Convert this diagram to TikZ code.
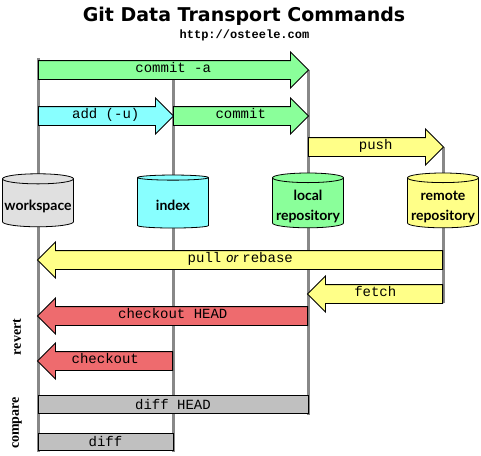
\documentclass[tikz,border=0pt]{standalone}
\usepackage{fontspec}
\setmainfont{Liberation Serif}
\setmonofont{Liberation Mono}
\setsansfont{Lato}
\newfontfamily\titlefamily{DejaVu Sans}
\usetikzlibrary{shapes.geometric}
\usetikzlibrary{shapes.arrows}

\definecolor{cmdgreen}{HTML}{8AFF9A}
\definecolor{cmdcyan}{HTML}{88FFFF}
\definecolor{cmdyellow}{HTML}{FFFF88}
\definecolor{cmdred}{HTML}{EE6B6E}
\definecolor{cmdgray}{HTML}{C0C0C0}
\definecolor{storegray}{HTML}{E0E0E0}
\definecolor{lanegray}{HTML}{888888}

\newcommand{\storelabel}[1]{\raisebox{-3.5pt}[\height][\depth]{\begin{tabular}{@{}c@{}}#1\end{tabular}}}

\tikzset{
  lane/.style={draw=lanegray, line width=3pt},
  store/.style={cylinder, shape border rotate=90, draw, line width=0.8pt, aspect=0.15,
    minimum width=71pt, minimum height=53pt, inner sep=0pt,
    font=\sffamily\bfseries\fontsize{14}{20}\selectfont},
  cmd/.style={single arrow, draw, line width=0.9pt, anchor=tail,
    font=\ttfamily\fontsize{14}{14}\selectfont,
    text height=7pt, text depth=2pt, inner ysep=4.5pt, inner xsep=0pt,
    single arrow head extend=8.5pt},
  cmdleft/.style={cmd, shape border rotate=180},
  cmdbar/.style={draw, line width=0.9pt, fill=cmdgray, inner sep=0pt,
    font=\ttfamily\fontsize{14}{14}\selectfont, minimum height=17.5pt},
  side/.style={rotate=90, font=\bfseries\fontsize{14}{14}\selectfont}
}

\begin{document}
\begin{tikzpicture}[x=1pt,y=-1pt]
    \useasboundingbox (0,0) rectangle (481,455);
    \node [font=\titlefamily\bfseries\fontsize{19}{19}\selectfont] (title) at (244,16.5) {Git Data Transport Commands};
    \node [font=\ttfamily\bfseries\fontsize{12}{12}\selectfont] (url) at (244.5,35) {http://osteele.com};
    % lanes
    \coordinate (wstop) at (38,58);   \coordinate (wsend) at (38,452);
    \coordinate (ixtop) at (173,80);  \coordinate (ixend) at (173,452);
    \coordinate (lrtop) at (308,70);  \coordinate (lrend) at (308,415);
    \coordinate (rrtop) at (443,147); \coordinate (rrend) at (443,303);
    \foreach \a/\b in {wstop/wsend, ixtop/ixend, lrtop/lrend, rrtop/rrend}
      \draw [lane] (\a) -- (\b);
    % stores
    \node [store, fill=storegray] (workspace) at (38,203) {\storelabel{workspace}};
    \node [store, fill=cmdcyan] (index) at (173,203) {\storelabel{index}};
    \node [store, fill=cmdgreen] (local) at (308,203) {\storelabel{local\\repository}};
    \node [store, fill=cmdyellow] (remote) at (443,203) {\storelabel{remote\\repository}};
    % commands
    \node [cmd, fill=cmdgreen, minimum height=270pt] (commitall) at (workspace |- 0,70) {\hspace*{9pt}commit -a};
    \node [cmd, fill=cmdcyan, minimum height=135pt] (add) at (workspace |- 0,116) {\hspace*{9pt}add (-u)};
    \node [cmd, fill=cmdgreen, minimum height=135pt] (commit) at (index |- 0,116) {\hspace*{9pt}commit};
    \node [cmd, fill=cmdyellow, minimum height=135pt] (push) at (local |- 0,147) {\hspace*{9pt}push};
    \node [cmdleft, fill=cmdyellow, minimum height=405pt] (pull) at (remote |- 0,260) {pull\hspace{5pt}{\sffamily\itshape or}\hspace{4pt}rebase\hspace*{9pt}};
    \node [cmdleft, fill=cmdyellow, minimum height=135pt] (fetch) at (remote |- 0,294) {fetch\hspace*{9pt}};
    \node [cmdleft, fill=cmdred, minimum height=270pt] (checkouthead) at (local |- 0,316) {checkout HEAD\hspace*{9pt}};
    \node [cmdleft, fill=cmdred, minimum height=135pt] (checkout) at (index |- 0,361) {checkout\hspace*{9pt}};
    \node [cmdbar, minimum width=270pt] (diffhead) at (173,404.5) {diff HEAD};
    \node [cmdbar, minimum width=135pt] (diff) at (105.5,442) {diff};
    \node [side] (revert) at (17,337) {revert};
    \node [side] (compare) at (17,423) {compare};
\end{tikzpicture}
\end{document}
